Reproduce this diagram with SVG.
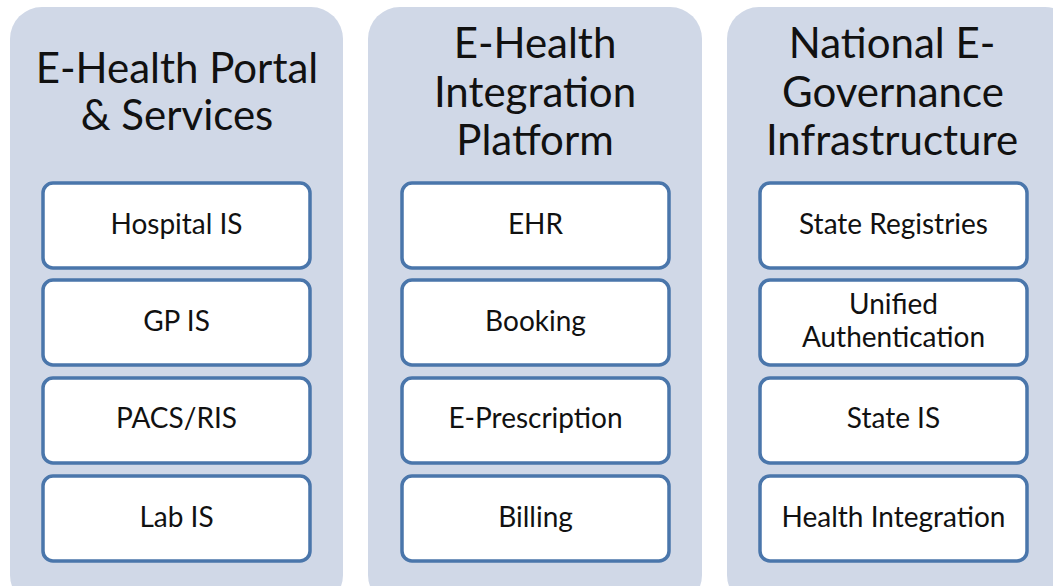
<svg xmlns="http://www.w3.org/2000/svg" width="1053" height="586" viewBox="0 0 1053 586">
<style>
.panel{fill:#d0d8e7;}
.box{fill:#ffffff;stroke:#4a76ab;stroke-width:3.5;}
.title{font-family:Lato,"Open Sans",sans-serif;font-size:42px;fill:#111;text-anchor:middle;}
.lbl{font-family:Lato,"Open Sans",sans-serif;font-size:28px;fill:#111;text-anchor:middle;}
</style>
<rect width="1053" height="586" fill="#ffffff"/>
<g id="col1">
<rect class="panel" x="10" y="7" width="333" height="600" rx="32"/>
<text class="title" x="177" y="83">E-Health Portal</text>
<text class="title" x="177" y="130">&amp; Services</text>
</g>
<g id="col2">
<rect class="panel" x="368" y="7" width="334" height="600" rx="32"/>
<text class="title" x="535" y="58">E-Health</text>
<text class="title" x="535" y="107">Integration</text>
<text class="title" x="535" y="155">Platform</text>
</g>
<g id="col3">
<rect class="panel" x="727" y="7" width="350" height="600" rx="32"/>
<text class="title" x="892" y="58">National E-</text>
<text class="title" x="893" y="107">Governance</text>
<text class="title" x="892" y="155">Infrastructure</text>
</g>
<g id="hospital"><rect class="box" x="43" y="183" width="267" height="85" rx="10"/><text class="lbl" x="176.5" y="234">Hospital IS</text></g>
<g id="gp"><rect class="box" x="43" y="280" width="267" height="85" rx="10"/><text class="lbl" x="176.5" y="331">GP IS</text></g>
<g id="pacs"><rect class="box" x="43" y="378" width="267" height="85" rx="10"/><text class="lbl" x="176.5" y="428">PACS/RIS</text></g>
<g id="lab"><rect class="box" x="43" y="476" width="267" height="85" rx="10"/><text class="lbl" x="176.5" y="527">Lab IS</text></g>
<g id="ehr"><rect class="box" x="402" y="183" width="267" height="85" rx="10"/><text class="lbl" x="535.5" y="234">EHR</text></g>
<g id="booking"><rect class="box" x="402" y="280" width="267" height="85" rx="10"/><text class="lbl" x="535.5" y="331">Booking</text></g>
<g id="eprescription"><rect class="box" x="402" y="378" width="267" height="85" rx="10"/><text class="lbl" x="535.5" y="428">E-Prescription</text></g>
<g id="billing"><rect class="box" x="402" y="476" width="267" height="85" rx="10"/><text class="lbl" x="535.5" y="527">Billing</text></g>
<g id="registries"><rect class="box" x="760" y="183" width="267" height="85" rx="10"/><text class="lbl" x="893.5" y="234">State Registries</text></g>
<g id="auth"><rect class="box" x="760" y="280" width="267" height="85" rx="10"/><text class="lbl" x="893.5" y="314">Unified</text><text class="lbl" x="893.5" y="347">Authentication</text></g>
<g id="stateis"><rect class="box" x="760" y="378" width="267" height="85" rx="10"/><text class="lbl" x="893.5" y="428">State IS</text></g>
<g id="healthint"><rect class="box" x="760" y="476" width="267" height="85" rx="10"/><text class="lbl" x="893.5" y="527">Health Integration</text></g>
<g id="connectors"></g>
</svg>
